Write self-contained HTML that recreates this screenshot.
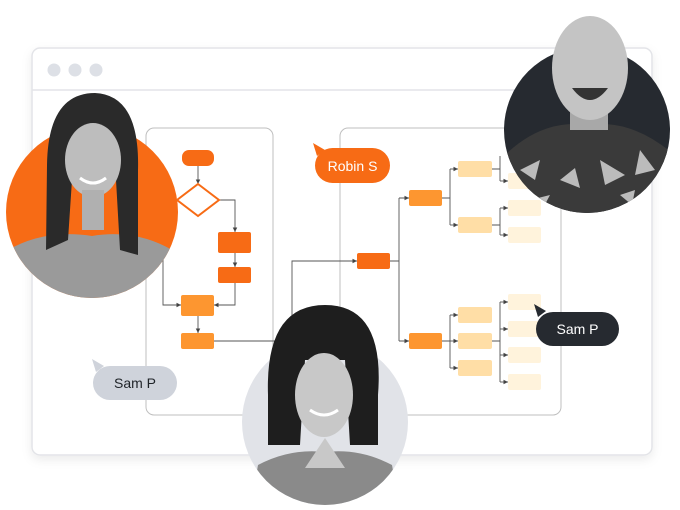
<!DOCTYPE html>
<html><head><meta charset="utf-8"><style>
html,body{margin:0;padding:0;background:#fff;}
svg{display:block}
text{font-family:"Liberation Sans",sans-serif;}
</style></head><body>
<svg width="680" height="510" viewBox="0 0 680 510" xmlns="http://www.w3.org/2000/svg">
<defs>
<marker id="a" markerWidth="6" markerHeight="6" refX="5" refY="3" orient="auto"><path d="M0,0.5 L5,3 L0,5.5z" fill="#444"/></marker>
<filter id="sh" x="-10%" y="-10%" width="120%" height="130%"><feDropShadow dx="0" dy="4" stdDeviation="5" flood-color="#000" flood-opacity="0.08"/></filter>
<clipPath id="c1"><circle cx="92" cy="212" r="86"/><rect x="40" y="85" width="105" height="130"/></clipPath>
<clipPath id="c2"><circle cx="587" cy="130" r="83"/><rect x="545" y="10" width="90" height="120"/></clipPath>
<clipPath id="c3"><circle cx="325" cy="422" r="83"/><rect x="262" y="300" width="122" height="130"/></clipPath>
</defs>
<!-- window -->
<rect x="32" y="48" width="620" height="407" rx="8" fill="#fff" stroke="#e3e4e8" stroke-width="1.5" filter="url(#sh)"/>
<line x1="32" y1="90" x2="652" y2="90" stroke="#e3e4e8" stroke-width="1.5"/>
<circle cx="54" cy="70" r="6.5" fill="#dde0e6"/><circle cx="75" cy="70" r="6.5" fill="#dde0e6"/><circle cx="96" cy="70" r="6.5" fill="#dde0e6"/>
<!-- panels -->
<rect x="146" y="128" width="127" height="287" rx="8" fill="none" stroke="#bfbfbf" stroke-width="1"/>
<rect x="340" y="128" width="221" height="287" rx="8" fill="none" stroke="#bfbfbf" stroke-width="1"/>
<!-- connectors -->
<g fill="none" stroke="#555" stroke-width="0.9">
<path d="M198,166 V184" marker-end="url(#a)"/>
<path d="M219,200 H235 V232" marker-end="url(#a)"/>
<path d="M235,253 V267" marker-end="url(#a)"/>
<path d="M235,283 V305 H214" marker-end="url(#a)"/>
<path d="M163,180 V305 H181" marker-end="url(#a)"/>
<path d="M198,316 V333" marker-end="url(#a)"/>
<path d="M214,341 H292 V261 H357" marker-end="url(#a)"/>
<path d="M390,261 H399 M399,198 V341 M399,198 H409 M399,341 H409"/>
<path d="M404,198 H409" marker-end="url(#a)"/><path d="M404,341 H409" marker-end="url(#a)"/>
<path d="M442,198 H450 M450,169 V225"/>
<path d="M450,169 H458" marker-end="url(#a)"/><path d="M450,225 H458" marker-end="url(#a)"/>
<path d="M442,341 H450 M450,315 V368"/>
<path d="M450,315 H458" marker-end="url(#a)"/><path d="M450,341 H458" marker-end="url(#a)"/><path d="M450,368 H458" marker-end="url(#a)"/>
<path d="M492,169 H500 M500,181 V156 M492,225 H500 M500,208 V235"/>
<path d="M500,181 H508" marker-end="url(#a)"/><path d="M500,208 H508" marker-end="url(#a)"/><path d="M500,235 H508" marker-end="url(#a)"/>
<path d="M492,341 H500 M500,302 V382"/>
<path d="M500,302 H508" marker-end="url(#a)"/><path d="M500,329 H508" marker-end="url(#a)"/><path d="M500,355 H508" marker-end="url(#a)"/><path d="M500,382 H508" marker-end="url(#a)"/>
</g>
<!-- left nodes -->
<rect x="182" y="150" width="32" height="16" rx="7" fill="#f76b15"/>
<path d="M198,184 L219,200 L198,216 L177,200z" fill="#fff" stroke="#f76b15" stroke-width="2"/>
<rect x="218" y="232" width="33" height="21" rx="2" fill="#f76b15"/>
<rect x="218" y="267" width="33" height="16" rx="2" fill="#f76b15"/>
<rect x="181" y="295" width="33" height="21" rx="2" fill="#fd9630"/>
<rect x="181" y="333" width="33" height="16" rx="2" fill="#fd9630"/>
<!-- right nodes -->
<rect x="357" y="253" width="33" height="16" rx="2" fill="#f76b15"/>
<rect x="409" y="190" width="33" height="16" rx="2" fill="#fd9630"/>
<rect x="409" y="333" width="33" height="16" rx="2" fill="#fd9630"/>
<g fill="#ffdea6">
<rect x="458" y="161" width="34" height="16" rx="2"/><rect x="458" y="217" width="34" height="16" rx="2"/>
<rect x="458" y="307" width="34" height="16" rx="2"/><rect x="458" y="333" width="34" height="16" rx="2"/><rect x="458" y="360" width="34" height="16" rx="2"/>
</g>
<g fill="#fff3dc">
<rect x="508" y="173" width="33" height="16" rx="2"/><rect x="508" y="200" width="33" height="16" rx="2"/><rect x="508" y="227" width="33" height="16" rx="2"/>
<rect x="508" y="294" width="33" height="16" rx="2"/><rect x="508" y="321" width="33" height="16" rx="2"/><rect x="508" y="347" width="33" height="16" rx="2"/><rect x="508" y="374" width="33" height="16" rx="2"/>
</g>
<!-- person 1 -->
<circle cx="92" cy="212" r="86" fill="#f76b15"/>
<g clip-path="url(#c1)">
<path d="M0,255 Q40,228 92,236 Q140,228 180,255 V310 H0z" fill="#9a9a9a"/>
<path d="M47,165 Q48,93 95,93 Q140,95 138,170 L138,255 L120,250 L116,180 L72,180 L68,240 L46,250z" fill="#2a2a2a"/>
<ellipse cx="93" cy="160" rx="28" ry="37" fill="#bdbdbd"/>
<rect x="82" y="190" width="22" height="40" fill="#b0b0b0"/>
<path d="M80,178 Q93,188 106,178" stroke="#fff" stroke-width="3" fill="none"/>
</g>
<!-- person 2 -->
<circle cx="587" cy="130" r="83" fill="#262a30"/>
<g clip-path="url(#c2)">
<path d="M500,160 Q540,118 588,125 Q635,118 680,160 V220 H500z" fill="#3a3a3a"/>
<path d="M520,170 l20,-10 l-5,20z M600,160 l25,15 l-20,10z M560,180 l15,-12 l5,20z M640,150 l15,20 l-20,5z M530,200 l20,-5 l-8,15z M620,195 l15,-5 l-3,15z" fill="#bbb"/>
<rect x="570" y="100" width="38" height="30" fill="#a8a8a8"/>
<ellipse cx="590" cy="68" rx="38" ry="52" fill="#c4c4c4"/>
<path d="M572,88 Q590,112 608,88z" fill="#333"/>
</g>
<!-- person 3 -->
<circle cx="325" cy="422" r="83" fill="#e1e3e8"/>
<g clip-path="url(#c3)">
<path d="M250,510 L258,465 Q290,448 325,452 Q360,448 392,465 L400,510z" fill="#8a8a8a"/>
<path d="M325,438 L305,468 L345,468z" fill="#c8c8c8"/>
<path d="M268,395 Q265,305 325,305 Q385,305 378,395 L378,445 L350,445 L345,360 L305,360 L300,445 L268,445z" fill="#1e1e1e"/>
<ellipse cx="324" cy="395" rx="29" ry="42" fill="#c8c8c8"/>
<path d="M310,410 Q324,420 338,410" stroke="#fff" stroke-width="3" fill="none"/>
</g>
<!-- labels -->
<path d="M313,143 L325,150 L317,156z" fill="#f76b15"/>
<rect x="315" y="148" width="75" height="35" rx="17.5" fill="#f76b15"/>
<text x="352.5" y="171" font-size="14" fill="#fff" text-anchor="middle">Robin S</text>
<path d="M92,359 L104,366 L96,372z" fill="#cfd3db"/>
<rect x="93" y="366" width="84" height="34" rx="17" fill="#cfd3db"/>
<text x="135" y="388" font-size="14" fill="#1f2328" text-anchor="middle">Sam P</text>
<path d="M534,304 L546,311 L538,317z" fill="#262a30"/>
<rect x="536" y="312" width="83" height="34" rx="17" fill="#262a30"/>
<text x="577.5" y="334" font-size="14" fill="#fff" text-anchor="middle">Sam P</text>
</svg>
</body></html>
